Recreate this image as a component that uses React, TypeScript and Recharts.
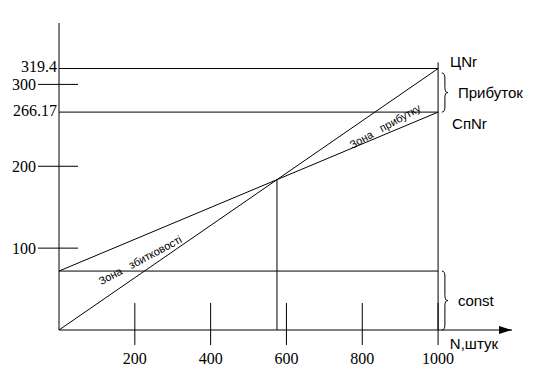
import React from 'react';
import {
  ComposedChart,
  Line,
  XAxis,
  YAxis,
  ReferenceLine,
  ReferenceDot,
  ReferenceArea,
} from 'recharts';

// ---- data ----
const quantities = [0, 1000];
const revenueValues = [0, 319.4]; // ЦNr
const totalCostValues = [72, 266.17]; // СпNr
const fixedCostValues = [72, 72]; // const
const yTicks = [100, 200, 266.17, 300, 319.4];
const longYTicks = [266.17, 319.4];
const xTicks = [200, 400, 600, 800, 1000];
const breakEvenN = 575;
const breakEvenValue = 184;
const maxN = 1000;
const maxLevel = 327;
const xDomainMax = 1195;
const yDomainMax = 375;

const data = quantities.map((n, i) => ({
  n,
  revenue: revenueValues[i],
  totalCost: totalCostValues[i],
  fixedCost: fixedCostValues[i],
}));

const SERIF = "'Liberation Serif', 'Times New Roman', 'DejaVu Serif', serif";
const SANS = "'Liberation Sans', Arial, sans-serif";

const serifStyle = { fontFamily: SERIF, fontSize: 16 };
const sansStyle = { fontFamily: SANS, fontSize: 15 };

const YTick = (props: any) => {
  const { x, y, payload } = props;
  const v = payload.value;
  const isLong = longYTicks.includes(v);
  if (isLong) {
    return (
      <text x={x - 2} y={y - 2} textAnchor="end" dominantBaseline="central" style={serifStyle} fill="#000">
        {String(v)}
      </text>
    );
  }
  return (
    <g>
      <text x={x - 23} y={y} textAnchor="end" dominantBaseline="central" style={serifStyle} fill="#000">
        {String(v)}
      </text>
      <line x1={x - 21} y1={y} x2={x + 19} y2={y} stroke="#000" strokeWidth={1} />
    </g>
  );
};

const XTick = (props: any) => {
  const { x, y, payload } = props;
  return (
    <g>
      <line x1={x} y1={y - 27} x2={x} y2={y + 15} stroke="#000" strokeWidth={1} />
      <text x={x} y={y + 28} textAnchor="middle" dominantBaseline="central" style={serifStyle} fill="#000">
        {String(payload.value)}
      </text>
    </g>
  );
};

const bracePath = (x: number, y: number, w: number, h: number) => {
  const mx = x + w / 2;
  const mid = y + h / 2;
  const r = Math.min(5, h / 4);
  return `M ${x} ${y} Q ${mx} ${y} ${mx} ${y + r} L ${mx} ${mid - r} Q ${mx} ${mid} ${x + w} ${mid} Q ${mx} ${mid} ${mx} ${mid + r} L ${mx} ${y + h - r} Q ${mx} ${y + h} ${x} ${y + h}`;
};

const makeBrace = (label: string) => (props: any) => {
  const { x, y, width, height } = props;
  return (
    <g>
      <path d={bracePath(x, y, width, height)} fill="none" stroke="#000" strokeWidth={1} />
      <text x={x + width + 10} y={y + height / 2} dominantBaseline="central" style={sansStyle} fill="#000">
        {label}
      </text>
    </g>
  );
};

const sideLabel = (label: string, dx: number, dy: number) => (props: any) => {
  const { cx, cy } = props;
  return (
    <text x={cx + dx} y={cy + dy} dominantBaseline="central" style={sansStyle} fill="#000">
      {label}
    </text>
  );
};

const rotatedLabel = (label: string, angle: number) => (props: any) => {
  const { cx, cy } = props;
  return (
    <text
      x={cx}
      y={cy}
      transform={`rotate(${angle} ${cx} ${cy})`}
      textAnchor="middle"
      dominantBaseline="central"
      fill="#000"
      xmlSpace="preserve"
      style={{ whiteSpace: 'pre', fontFamily: SANS, fontSize: 11 }}
    >
      {label}
    </text>
  );
};

const arrowShape = (props: any) => {
  const { cx, cy } = props;
  return (
    <g>
      <polygon points={`${cx - 13},${cy - 4} ${cx},${cy} ${cx - 13},${cy + 4}`} fill="#000" />
      <text x={cx - 14} y={cy + 13} textAnchor="end" dominantBaseline="central" style={sansStyle} fill="#000">
        N,штук
      </text>
    </g>
  );
};

export default function App() {
  return (
    <div style={{ position: 'absolute', left: 0, top: 0, background: '#fff' }}>
      <ComposedChart
        width={534}
        height={376}
        data={data}
        margin={{ top: 23, right: 22, bottom: 0, left: 0 }}
      >
        <XAxis
          dataKey="n"
          type="number"
          domain={[0, xDomainMax]}
          ticks={xTicks}
          interval={0}
          height={46}
          tickSize={0}
          tickMargin={0}
          tickLine={false}
          axisLine={{ stroke: '#000', strokeWidth: 1 }}
          tick={(p: any) => <XTick {...p} />}
          allowDataOverflow
        />
        <YAxis
          type="number"
          domain={[0, yDomainMax]}
          ticks={yTicks}
          interval={0}
          width={59}
          tickSize={0}
          tickMargin={0}
          tickLine={false}
          axisLine={{ stroke: '#000', strokeWidth: 1 }}
          tick={(p: any) => <YTick {...p} />}
          allowDataOverflow
        />
        <ReferenceLine segment={[{ x: 0, y: 319.4 }, { x: maxN, y: 319.4 }]} stroke="#000" strokeWidth={1} />
        <ReferenceLine segment={[{ x: 0, y: 266.17 }, { x: maxN, y: 266.17 }]} stroke="#000" strokeWidth={1} />
        <ReferenceLine segment={[{ x: maxN, y: 0 }, { x: maxN, y: maxLevel }]} stroke="#000" strokeWidth={1} />
        <ReferenceLine segment={[{ x: breakEvenN, y: 0 }, { x: breakEvenN, y: breakEvenValue }]} stroke="#000" strokeWidth={1} />
        <Line type="linear" dataKey="revenue" stroke="#000" strokeWidth={1} dot={false} activeDot={false} isAnimationActive={false} />
        <Line type="linear" dataKey="totalCost" stroke="#000" strokeWidth={1} dot={false} activeDot={false} isAnimationActive={false} />
        <Line type="linear" dataKey="fixedCost" stroke="#000" strokeWidth={1} dot={false} activeDot={false} isAnimationActive={false} />
        <ReferenceArea x1={1010} x2={1026} y1={266.17} y2={314} shape={makeBrace('Прибуток')} ifOverflow="visible" />
        <ReferenceArea x1={1010} x2={1026} y1={0} y2={72} shape={makeBrace('const')} ifOverflow="visible" />
        <ReferenceDot x={maxN} y={319.4} r={0} shape={sideLabel('ЦNr', 12, -7)} ifOverflow="visible" />
        <ReferenceDot x={maxN} y={266.17} r={0} shape={sideLabel('СпNr', 14, 11)} ifOverflow="visible" />
        <ReferenceDot x={860} y={249} r={0} shape={rotatedLabel('Зона   прибутку', -29)} ifOverflow="visible" />
        <ReferenceDot x={214} y={85.5} r={0} shape={rotatedLabel('Зона   збитковості', -28)} ifOverflow="visible" />
        <ReferenceDot x={xDomainMax} y={0} r={0} shape={arrowShape} ifOverflow="visible" />
      </ComposedChart>
    </div>
  );
}
